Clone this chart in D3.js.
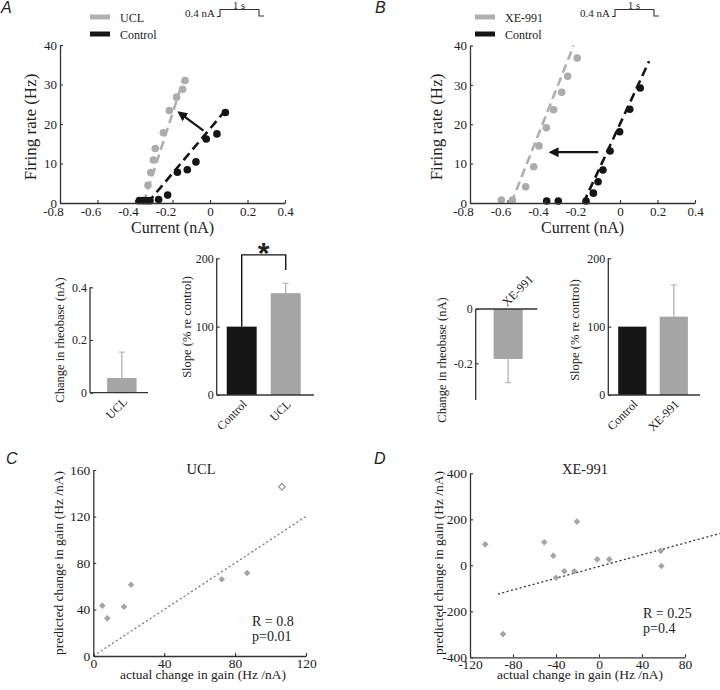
<!DOCTYPE html>
<html><head><meta charset="utf-8">
<script src="https://cdn.jsdelivr.net/npm/d3@7"></script>
<style>
body{margin:0;background:#fff}
svg{display:block}
text{font-family:"Liberation Serif","Times New Roman",serif;fill:#222}
</style>
</head><body>
<svg id="c" width="720" height="690"></svg>
<script>
// ---------------- DATA ----------------
// Panel A (UCL vs Control) f-I curves
const aUclCurrent = [-0.331,-0.316,-0.302,-0.292,-0.249,-0.217,-0.178,-0.146,-0.133];
const aUclRate    = [4.5,7.7,10.9,13.8,17.8,23.4,26.8,28.8,31.0];
const aCtlCurrent = [-0.377,-0.356,-0.338,-0.32,-0.274,-0.226,-0.174,-0.121,-0.075,-0.02,0.037,0.082];
const aCtlRate    = [0.6,0.6,0.6,0.6,0.9,2.0,7.8,8.4,10.4,16.2,17.5,22.9];
const aUclFit = [[-0.355,0],[-0.14,31.5]];
const aCtlFit = [[-0.333,0],[0.085,23.6]];
const aArrow  = [[-0.035,18.3],[-0.165,22.9]];
// Panel B (XE-991 vs Control)
const bXeCurrent  = [-0.633,-0.574,-0.503,-0.460,-0.432,-0.393,-0.354,-0.311,-0.279,-0.228];
const bXeRate     = [0.75,0.75,4.1,9.2,14.5,19.1,23.7,28.1,32.2,36.8];
const bCtlCurrent = [-0.391,-0.329,-0.181,-0.142,-0.117,-0.091,-0.053,-0.002,0.052,0.108];
const bCtlRate    = [0.5,0.5,0.5,2.5,5.4,8.4,13.2,18.1,23.8,29.2];
const bXeFit  = [[-0.58,0],[-0.247,40]];
const bCtlFit = [[-0.195,0],[0.155,36]];
const bArrow  = [[-0.116,12.9],[-0.37,12.9]];
const fiXTicks = [-0.8,-0.6,-0.4,-0.2,0,0.2,0.4];
const fiYTicks = [0,10,20,30,40];
// Bar charts
const rheoCatsA = ["UCL"], rheoA = [0.056], rheoErrA = [0.098];
const slopeCatsA = ["Control","UCL"], slopeA = [100,149], slopeErrA = [0,14.5];
const rheoCatsB = ["XE-991"], rheoB = [-0.184], rheoErrB = [0.087];
const slopeCatsB = ["Control","XE-991"], slopeB = [100,114.6], slopeErrB = [0,46.4];
// Panel C
const cActual = [5.1,7.9,17.3,21.3,72.5,86.8,106.4];
const cPredicted = [43.3,32.4,42.4,61.3,66.0,71.4,145.6];
const cOpen = [false,false,false,false,false,false,true];
const cFit = [[0,0],[120,120]];
// Panel D
const dActual = [-105.8,-89.3,-50.9,-42.5,-40,-32.3,-23,-20.5,-1.6,9.6,57.4,58];
const dPredicted = [91,-299,100,42,-54,-26,-26,190,26,26,63,-3];
const dFit = [[-94,-125],[113,139]];

// ---------------- HELPERS ----------------
const svg = d3.select("#c");
const SERIF = "'Liberation Serif','Times New Roman',serif";
const BLACK = "#151515", GRAY = "#a5a5a5", AX = "#333";
svg.append("defs").append("marker").attr("id","arr").attr("viewBox","0 0 10 10")
  .attr("refX",8).attr("refY",5).attr("markerWidth",4.5).attr("markerHeight",4.5)
  .attr("markerUnits","strokeWidth").attr("orient","auto")
  .append("path").attr("d","M0,0 L10,5 L0,10 z").attr("fill",BLACK);

const fmt = d => String(d);
function styleAxis(g, fs){
  g.attr("font-size",fs).attr("color",AX);
  g.select(".domain").attr("stroke-width",1.3);
  g.selectAll(".tick line").attr("stroke-width",1.1);
  g.selectAll("text").style("font-family",SERIF).style("font-size",fs+"px").attr("fill","#222");
}
function yAxis(scale, x, ticks, fs, pad){
  const g = svg.append("g").attr("transform",`translate(${x},0)`)
    .call(d3.axisLeft(scale).tickValues(ticks).tickFormat(fmt).tickSizeInner(-3).tickSizeOuter(0).tickPadding(pad));
  styleAxis(g, fs); return g;
}
function xAxis(scale, y, ticks, fs, pad){
  const g = svg.append("g").attr("transform",`translate(0,${y})`)
    .call(d3.axisBottom(scale).tickValues(ticks).tickFormat(fmt).tickSizeInner(-3).tickSizeOuter(0).tickPadding(pad));
  styleAxis(g, fs); return g;
}
function vLabel(txt, x, y, fs){
  svg.append("text").attr("transform",`translate(${x},${y}) rotate(-90)`)
    .attr("text-anchor","middle").attr("dominant-baseline","central").style("font-size",fs+"px").text(txt);
}
function label(txt, x, y, fs, anchor="middle"){
  return svg.append("text").attr("x",x).attr("y",y).style("font-size",fs+"px").attr("text-anchor",anchor).text(txt);
}
function panelLetter(l, x, y){
  svg.append("text").attr("x",x).attr("y",y).style("font-size","16px")
    .attr("font-style","italic").style("font-family","'Liberation Sans', Arial, sans-serif").text(l);
}

// ---------------- f-I PANELS ----------------
function fiPanel(opt){
  const x = d3.scaleLinear().domain([-0.8,0.4]).range(opt.xr);
  const y = d3.scaleLinear().domain([0,40]).range(opt.yr);
  const line = d3.line().x(d=>x(d[0])).y(d=>y(d[1]));
  svg.append("path").attr("d",line(opt.gFit)).attr("stroke","#b0b0b0").attr("stroke-width",2.6)
    .attr("stroke-dasharray","9,5").attr("fill","none");
  svg.append("path").attr("d",line(opt.kFit)).attr("stroke",BLACK).attr("stroke-width",2.6)
    .attr("stroke-dasharray","9,5").attr("fill","none");
  svg.append("g").selectAll("circle").data(opt.gI.map((v,i)=>[v,opt.gF[i]])).join("circle")
    .attr("cx",d=>x(d[0])).attr("cy",d=>y(d[1])).attr("r",3.8).attr("fill","#acacac");
  svg.append("g").selectAll("circle").data(opt.kI.map((v,i)=>[v,opt.kF[i]])).join("circle")
    .attr("cx",d=>x(d[0])).attr("cy",d=>y(d[1])).attr("r",3.8).attr("fill",BLACK);
  svg.append("path").attr("d",line(opt.arrow)).attr("stroke",BLACK).attr("stroke-width",2.2)
    .attr("fill","none").attr("marker-end","url(#arr)");
  yAxis(y, opt.xr[0], fiYTicks, 13, 3);
  const gx = xAxis(x, opt.yr[0], fiXTicks, 13, 4);
  gx.selectAll(".tick text").attr("dx", d => d < 0 ? -7 : 0);
  vLabel("Firing rate (Hz)", opt.ylx, 127, 17);
  label("Current (nA)", (opt.xr[0]+opt.xr[1])/2, 233, 16);
  const lx = opt.legX;
  svg.append("line").attr("x1",lx).attr("x2",lx+20).attr("y1",17).attr("y2",17).attr("stroke","#b0b0b0").attr("stroke-width",5);
  svg.append("line").attr("x1",lx).attr("x2",lx+20).attr("y1",34).attr("y2",34).attr("stroke",BLACK).attr("stroke-width",5);
  label(opt.gName, lx+30, 22, 12, "start");
  label("Control", lx+30, 39, 12, "start");
  const s = opt.stimX;
  label("0.4 nA", s-2, 17, 11, "end");
  svg.append("path").attr("d",`M${s},16.5 H${s+3} V9.5 H${s+42} V16 H${s+47}`)
    .attr("stroke",AX).attr("stroke-width",1.1).attr("fill","none");
  label("1 s", s+22, 8.5, 10.5);
}
fiPanel({xr:[60,285], yr:[203,45], gI:aUclCurrent, gF:aUclRate, kI:aCtlCurrent, kF:aCtlRate,
  gFit:aUclFit, kFit:aCtlFit, arrow:aArrow, ylx:30, legX:90, gName:"UCL", stimX:217});
fiPanel({xr:[470,695], yr:[203,45.5], gI:bXeCurrent, gF:bXeRate, kI:bCtlCurrent, kF:bCtlRate,
  gFit:bXeFit, kFit:bCtlFit, arrow:bArrow, ylx:436, legX:475, gName:"XE-991", stimX:612});
panelLetter("A", 1, 13);
panelLetter("B", 375, 13);

// ---------------- BAR PANELS ----------------
function barPanel(opt){
  const x = d3.scaleBand().domain(opt.cats).range(opt.xr).paddingInner(0.32).paddingOuter(opt.po).align(opt.align);
  const y = d3.scaleLinear().domain(opt.dom).range(opt.yr);
  const base = y(0);
  const data = opt.cats.map((c,i)=>({c, v:opt.vals[i], e:opt.errs[i], col: c==="Control"?BLACK:GRAY}));
  data.filter(d=>d.e>0).forEach(d=>{
    const cx = x(d.c)+x.bandwidth()/2;
    const tip = d.v>=0 ? d.v+d.e : d.v-d.e;
    svg.append("line").attr("x1",cx).attr("x2",cx).attr("y1",y(d.v)).attr("y2",y(tip)).attr("stroke","#b8b8b8").attr("stroke-width",1.4);
    svg.append("line").attr("x1",cx-3).attr("x2",cx+3).attr("y1",y(tip)).attr("y2",y(tip)).attr("stroke","#b8b8b8").attr("stroke-width",1.2);
  });
  svg.append("g").selectAll("rect").data(data).join("rect")
    .attr("x",d=>x(d.c)).attr("width",x.bandwidth())
    .attr("y",d=>Math.min(y(d.v),base)).attr("height",d=>Math.abs(y(d.v)-base))
    .attr("fill",d=>d.col);
  const ya = yAxis(y, opt.xr[0], opt.ticks, 12, 3);
  ya.select(".domain").attr("d",`M0,${opt.yr[0]}V${opt.yr[1]}`);
  svg.append("line").attr("x1",opt.xr[0]).attr("x2",opt.xr[1]).attr("y1",base).attr("y2",base).attr("stroke",AX).attr("stroke-width",1.3);
  data.forEach(d=>{
    const cx = x(d.c)+x.bandwidth()/2;
    if (opt.above){
      svg.append("text").attr("transform",`translate(${cx-4},${base-5}) rotate(-45)`)
        .attr("text-anchor","start").attr("dy","0.35em").style("font-size","12px").text(d.c);
    } else {
      svg.append("text").attr("transform",`translate(${cx+3},${base+7}) rotate(-45)`)
        .attr("text-anchor","end").attr("dy","0.35em").style("font-size","12px").text(d.c);
    }
  });
  vLabel(opt.ylabel, opt.ylx, opt.yly, 12.5);
  return {x,y};
}
barPanel({cats:rheoCatsA, vals:rheoA, errs:rheoErrA, xr:[90,148], po:0.33, align:0.6,
  dom:[0,0.4], yr:[392.7,287.3], ticks:[0,0.2,0.4], ylabel:"Change in rheobase (nA)", ylx:60, yly:340});
const sA = barPanel({cats:slopeCatsA, vals:slopeA, errs:slopeErrA, xr:[216.7,314], po:0.265, align:0.43,
  dom:[0,200], yr:[395,258.3], ticks:[0,100,200], ylabel:"Slope (% re control)", ylx:187, yly:327});
barPanel({cats:rheoCatsB, vals:rheoB, errs:rheoErrB, xr:[475.7,537.3], po:0.38, align:0.55, above:true,
  dom:[-0.335,0], yr:[400,309], ticks:[-0.2,0], ylabel:"Change in rheobase (nA)", ylx:442, yly:360});
barPanel({cats:slopeCatsB, vals:slopeB, errs:slopeErrB, xr:[608.3,700], po:0.265, align:0.45,
  dom:[0,200], yr:[395,258.3], ticks:[0,100,200], ylabel:"Slope (% re control)", ylx:575, yly:330});
{
  const cx0 = sA.x("Control")+sA.x.bandwidth()/2, cx1 = sA.x("UCL")+sA.x.bandwidth()/2;
  svg.append("path").attr("d",`M${cx0},${sA.y(100)} V${sA.y(205)} H${cx1} V${sA.y(183)}`)
    .attr("stroke",BLACK).attr("stroke-width",1.4).attr("fill","none");
  svg.append("text").attr("x",(cx0+cx1)/2).attr("y",sA.y(205)+8).attr("text-anchor","middle")
    .style("font-size","30px").attr("font-weight","bold").style("font-family","'Liberation Sans', Arial, sans-serif")
    .attr("fill",BLACK).text("*");
}

// ---------------- SCATTER PANELS ----------------
function scatterPanel(opt){
  const x = d3.scaleLinear().domain(opt.xd).range(opt.xr);
  const y = d3.scaleLinear().domain(opt.yd).range(opt.yr);
  const line = d3.line().x(d=>x(d[0])).y(d=>y(d[1]));
  svg.append("path").attr("d",line(opt.fit)).attr("stroke",opt.fitCol).attr("stroke-width",1.3)
    .attr("stroke-dasharray","2,2.5").attr("fill","none");
  const sym = d3.symbol().type(d3.symbolSquare).size(22);
  svg.append("g").selectAll("path").data(opt.xs.map((v,i)=>({x:v,y:opt.ys[i],o:opt.open?opt.open[i]:false}))).join("path")
    .attr("d",sym).attr("transform",d=>`translate(${x(d.x)},${y(d.y)}) rotate(45)`)
    .attr("fill",d=>d.o?"#fff":"#a5a5a5").attr("stroke",d=>d.o?"#999":"none").attr("stroke-width",1.3);
  yAxis(y, opt.xr[0], opt.yt, 13.5, 3);
  xAxis(x, opt.yr[0], opt.xt, 13.5, 2);
  vLabel("predicted change in gain (Hz /nA)", opt.ylx, 563, 13.5);
  label("actual change in gain (Hz /nA)", opt.xlx, 679, 13.5);
  label(opt.title, opt.tx, 474, 14.5);
  label(opt.r, opt.rx, opt.ry, 14, "start");
  label(opt.p, opt.rx, opt.ry+15, 14, "start");
}
scatterPanel({xd:[0,120], xr:[93.3,306], yd:[0,160], yr:[656,470], xs:cActual, ys:cPredicted, open:cOpen,
  fit:cFit, fitCol:"#777", xt:[0,40,80,120], yt:[0,40,80,120,160], ylx:58, xlx:203,
  title:"UCL", tx:201, r:"R = 0.8", p:"p=0.01", rx:252, ry:626});
scatterPanel({xd:[-120,80], xr:[470,685], yd:[-400,400], yr:[657.3,473.3], xs:dActual, ys:dPredicted,
  fit:dFit, fitCol:"#333", xt:[-120,-80,-40,0,40,80], yt:[-400,-200,0,200,400], ylx:438, xlx:580,
  title:"XE-991", tx:585, r:"R = 0.25", p:"p=0.4", rx:643, ry:618});
panelLetter("C", 6, 464);
panelLetter("D", 374, 464);
</script>
</body></html>
